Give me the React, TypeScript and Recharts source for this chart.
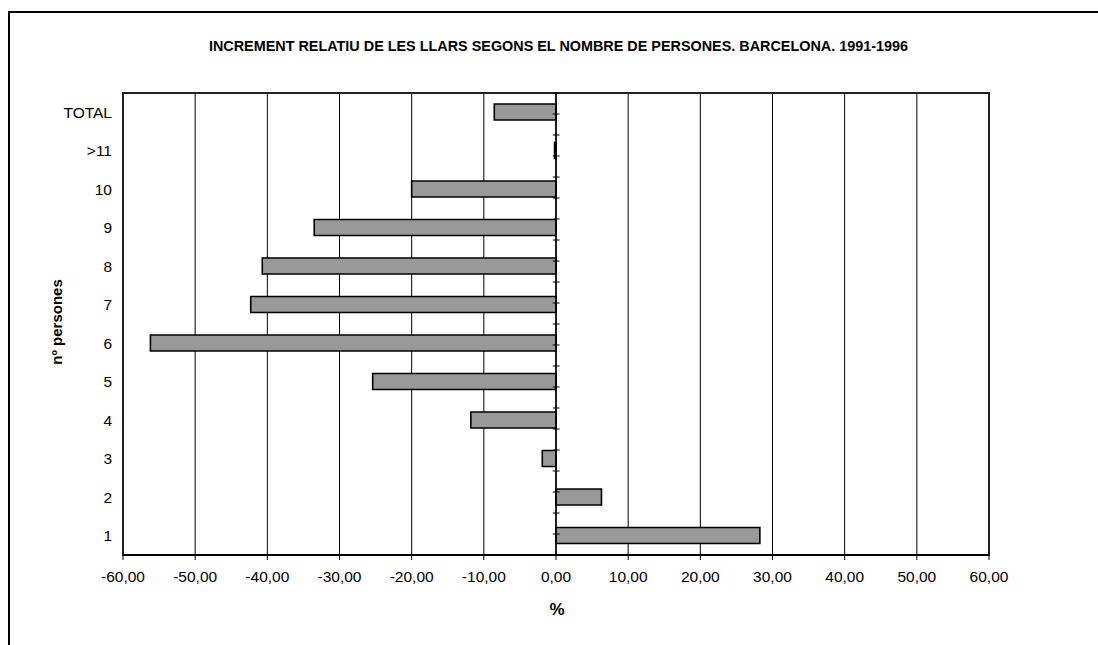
import React from 'react';
import { BarChart, Bar, XAxis, YAxis, CartesianGrid, ReferenceLine, ReferenceArea } from 'recharts';

// categories top to bottom, as in the reference
const categories = ['TOTAL', '>11', '10', '9', '8', '7', '6', '5', '4', '3', '2', '1'];
const increments = [-8.55, -0.2, -20.0, -33.5, -40.7, -42.3, -56.2, -25.4, -11.8, -1.9, 6.3, 28.25];
const xTicks = [-60, -50, -40, -30, -20, -10, 0, 10, 20, 30, 40, 50, 60];

// positions (in category units) for the small tick marks on the zero axis
const bandEdges = categories.map((_, i) => i).concat([categories.length]);
const bandCenters = categories.map((_, i) => i + 0.5);

const data = categories.map((c, i) => ({ cat: c, value: increments[i] }));

const FONT = '"Liberation Sans", Arial, sans-serif';

const formatPct = (v: number) => v.toFixed(2).replace('.', ',');

export default function App() {
  return (
    <div style={{ position: 'absolute', left: 0, top: 0, width: 1098, height: 645, background: '#fff', fontFamily: FONT, overflow: 'hidden' }}>
      <div
        style={{
          position: 'absolute', left: 8, top: 11, width: 1100, height: 650,
          borderTop: '2px solid #000', borderLeft: '2px solid #000', boxSizing: 'border-box',
        }}
      />
      <div
        style={{
          position: 'absolute', left: 0, width: 1117, top: 38, textAlign: 'center',
          fontWeight: 'bold', fontSize: 14.4, color: '#000', whiteSpace: 'nowrap',
        }}
      >
        INCREMENT RELATIU DE LES LLARS SEGONS EL NOMBRE DE PERSONES. BARCELONA. 1991-1996
      </div>
      <div
        style={{
          position: 'absolute', left: 56, top: 322, transform: 'translate(-50%, -50%) rotate(-90deg)',
          fontWeight: 'bold', fontSize: 15, whiteSpace: 'nowrap', color: '#000',
        }}
      >
        nº persones
      </div>
      <div
        style={{
          position: 'absolute', left: 557, top: 610, transform: 'translate(-50%, -50%)',
          fontWeight: 'bold', fontSize: 17, color: '#000',
        }}
      >
        %
      </div>
      <div style={{ position: 'absolute', left: 0, top: 0 }}>
        <BarChart
          width={1098}
          height={645}
          data={data}
          layout="vertical"
          margin={{ top: 93, right: 109, bottom: 60, left: 0 }}
          barCategoryGap={13}
        >
          <CartesianGrid horizontal={false} vertical stroke="#000" strokeWidth={1} />
          <XAxis
            type="number"
            domain={[-60, 60]}
            ticks={xTicks}
            tickFormatter={formatPct}
            height={30}
            axisLine={{ stroke: '#000', strokeWidth: 2 }}
            tickLine={{ stroke: '#000' }}
            tickSize={5}
            tickMargin={11}
            tick={{ fill: '#000', fontSize: 15.5, fontFamily: FONT }}
            interval={0}
          />
          <YAxis
            type="category"
            dataKey="cat"
            width={123}
            axisLine={false}
            tickLine={false}
            tickSize={0}
            tickMargin={11}
            tick={{ fill: '#000', fontSize: 15.5, fontFamily: FONT }}
            interval={0}
          />
          <YAxis yAxisId="marks" type="number" domain={[0, categories.length]} hide />
          <ReferenceArea x1={-60} x2={60} fill="none" stroke="#222" strokeWidth={2} ifOverflow="extendDomain" />
          <Bar dataKey="value" fill="#999999" stroke="#000" strokeWidth={1.6} barSize={16} isAnimationActive={false} />
          <ReferenceLine x={0} stroke="#000" strokeWidth={1.5} />
          {bandEdges.concat(bandCenters).map((y) => (
            <ReferenceLine
              key={`m${y}`}
              yAxisId="marks"
              segment={[{ x: -0.45, y }, { x: 0.5, y }]}
              stroke="#000"
              strokeWidth={1}
            />
          ))}
        </BarChart>
      </div>
    </div>
  );
}
